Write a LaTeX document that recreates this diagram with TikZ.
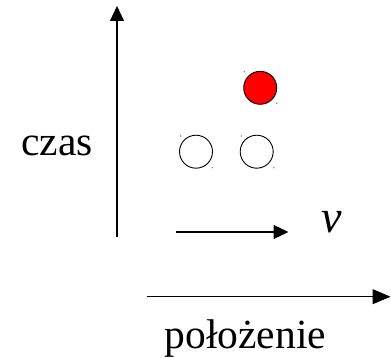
\documentclass[tikz,border=0pt]{standalone}
\usepackage{fontspec}
\setmainfont{Liberation Serif}
\usetikzlibrary{arrows.meta}
\begin{document}
\begin{tikzpicture}[x=1pt,y=-1pt,
  axis/.style={line width=1.1pt,-{Triangle[length=15pt,width=14pt]}},
  ball/.style={circle,draw=black,line width=0.9pt,minimum size=33pt,inner sep=0pt},
  handle/.style={circle,fill=gray,inner sep=0pt,minimum size=1.6pt},
  lbl/.style={inner sep=0pt,anchor=base west,font=\fontsize{41.5}{48}\selectfont}]
\useasboundingbox (0,0) rectangle (391,358);
% axes
\coordinate (tbot) at (117,237);
\coordinate (ttop) at (117,6);
\draw[axis] (tbot) -- (ttop);
\coordinate (xl) at (147,296.7);
\coordinate (xr) at (390.5,296.7);
\draw[axis,-{Triangle[length=18pt,width=15pt]}] (xl) -- (xr);
\coordinate (vl) at (176,232);
\coordinate (vr) at (288.5,232);
\draw[axis] (vl) -- (vr);
% balls
\node[ball,fill=red] (r) at (260.2,87.8) {};
\node[ball,fill=white] (w1) at (196,151.7) {};
\node[ball,fill=white] (w2) at (256.7,151.7) {};
\node[handle] (r1) at (244.3,71.7) {};
\node[handle] (r2) at (276.7,103.3) {};
\node[handle] (a1) at (180.7,136) {};
\node[handle] (a2) at (212.3,167.7) {};
\node[handle] (b1) at (241.3,136) {};
\node[handle] (b2) at (273.7,167.7) {};
% labels
\node[lbl] (czas) at (21,156) {czas};
\node[lbl] (pol) at (164.5,348) {położenie};
\node[lbl,font=\fontsize{46}{52}\selectfont\itshape] (v) at (321,233) {v};
\end{tikzpicture}
\end{document}
